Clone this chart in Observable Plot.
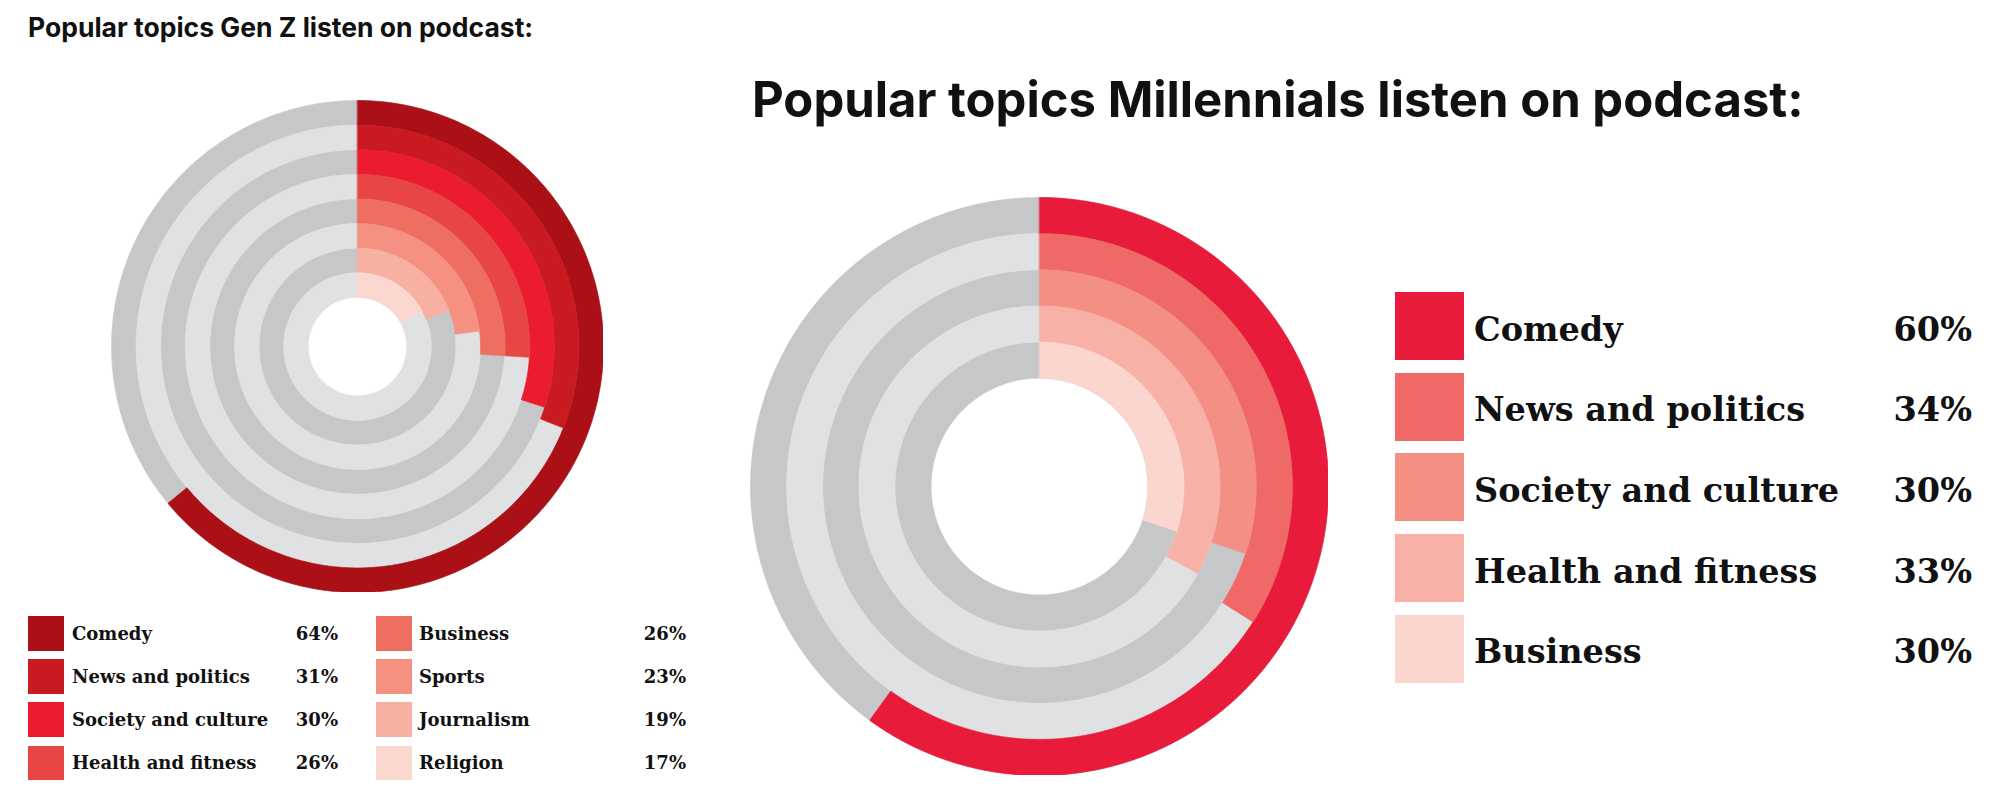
<!DOCTYPE html>
<html>
<head>
<meta charset="utf-8">
<script src="https://cdn.jsdelivr.net/npm/d3@7"></script>
<script src="https://cdn.jsdelivr.net/npm/@observablehq/plot@0.6"></script>
<style>
  html, body { margin: 0; padding: 0; background: #fff; }
  #root { position: relative; width: 1992px; height: 798px; overflow: hidden; background: #fff; }
  .title { font-family: Inter, "Open Sans", sans-serif; font-weight: 700; color: #111; white-space: nowrap; line-height: 1; }
  .leg { font-family: "DejaVu Serif", serif; font-weight: 700; color: #111; white-space: nowrap; display: flex; justify-content: space-between; align-items: center; }
  .sw { position: absolute; }
</style>
</head>
<body>
<div id="root"></div>
<script>
// ---- data ----
const genzTitle = "Popular topics Gen Z listen on podcast:";
const genzTopics = ["Comedy", "News and politics", "Society and culture", "Health and fitness", "Business", "Sports", "Journalism", "Religion"];
const genzValues = [64, 31, 30, 26, 26, 23, 19, 17];
const genzColors = ["#ab1016", "#ca1a21", "#ea1c2e", "#e84545", "#ef6e62", "#f49180", "#f8b0a2", "#fbd8cf"];

const millTitle = "Popular topics Millennials listen on podcast:";
const millTopics = ["Comedy", "News and politics", "Society and culture", "Health and fitness", "Business"];
const millValues = [60, 34, 30, 33, 30];
const millColors = ["#e81b3a", "#ef6966", "#f48f84", "#f8b1a7", "#fbd6cf"];

const trackColors = ["#c6c7c9", "#e0e1e3"];

// ---- geometry helpers (angle in percent of a full turn, radius in ring units) ----
function arcPoints(r, a0, a1, reverse) {
  const n = Math.max(2, Math.ceil(Math.abs(a1 - a0) / 0.2));
  const out = [];
  for (let j = 0; j <= n; j++) {
    const k = reverse ? n - j : j;
    const t = (a0 + (a1 - a0) * k / n) / 100 * 2 * Math.PI;
    out.push([r * Math.sin(t), r * Math.cos(t)]);
  }
  return out;
}
function sector(r0, r1, v, props) {
  const ring = arcPoints(r1, 0, v, false).concat(arcPoints(r0, 0, v, true));
  ring.push(ring[0]);
  return {type: "Feature", properties: props, geometry: {type: "Polygon", coordinates: [ring]}};
}
function annulus(r0, r1, props) {
  const outer = arcPoints(r1, 0, 100, false); outer[outer.length - 1] = outer[0];
  const rings = [outer];
  if (r0 > 0) { const inner = arcPoints(r0, 0, 100, true); inner[inner.length - 1] = inner[0]; rings.push(inner); }
  return {type: "Feature", properties: props, geometry: {type: "Polygon", coordinates: rings}};
}

function radialChart({topics, values, colors, hole, size}) {
  const n = topics.length;
  const rows = topics.map((topic, i) => ({topic, value: values[i], i, r0: hole + (n - 1 - i), r1: hole + (n - i)}));
  const tracks = rows.map(d => annulus(d.r0, d.r1, {i: d.i}));
  const arcs = rows.map(d => sector(d.r0, d.r1, d.value, {topic: d.topic}));
  const domain = annulus(0, hole + n, {});
  return Plot.plot({
    width: size, height: size, margin: 0,
    projection: {type: "reflect-y", domain, clip: false},
    color: {domain: topics, range: colors},
    marks: [
      Plot.geo(tracks.filter(f => f.properties.i % 2 === 0), {fill: trackColors[0], stroke: trackColors[0], strokeWidth: 0.6}),
      Plot.geo(tracks.filter(f => f.properties.i % 2 === 1), {fill: trackColors[1], stroke: trackColors[1], strokeWidth: 0.6}),
      Plot.geo(arcs, {fill: f => f.properties.topic, stroke: f => f.properties.topic, strokeWidth: 0.6})
    ]
  });
}

const root = document.getElementById("root");
function place(el, left, top) { el.style.position = "absolute"; el.style.left = left + "px"; el.style.top = top + "px"; root.appendChild(el); return el; }
function div(cls, text) { const d = document.createElement("div"); if (cls) d.className = cls; if (text != null) d.textContent = text; return d; }

// ---- Gen Z ----
const t1 = div("title", genzTitle); t1.style.fontSize = "26.5px"; place(t1, 28, 14);
place(radialChart({topics: genzTopics, values: genzValues, colors: genzColors, hole: 2, size: 492}), 110.5, 99.5);

const gzCols = [{sw: 28, text: 72, right: 338}, {sw: 376, text: 419, right: 686}];
genzTopics.forEach((topic, i) => {
  const col = gzCols[Math.floor(i / 4)], row = i % 4;
  const top = 616 + row * 43.2;
  const sw = div("sw"); sw.style.width = "35.5px"; sw.style.height = "34.5px"; sw.style.background = genzColors[i];
  place(sw, col.sw, top);
  const lg = div("leg"); lg.style.width = (col.right - col.text) + "px"; lg.style.height = "34.5px"; lg.style.fontSize = "18px";
  lg.appendChild(div(null, topic)); lg.appendChild(div(null, genzValues[i] + "%"));
  place(lg, col.text, top);
});

// ---- Millennials ----
const t2 = div("title", millTitle); t2.style.fontSize = "49px"; place(t2, 752, 75);
place(radialChart({topics: millTopics, values: millValues, colors: millColors, hole: 3, size: 578}), 749.5, 197);

millTopics.forEach((topic, i) => {
  const top = 292 + i * 80.7;
  const sw = div("sw"); sw.style.width = "69px"; sw.style.height = "68px"; sw.style.background = millColors[i];
  place(sw, 1395, top);
  const lg = div("leg"); lg.style.width = (1972 - 1474) + "px"; lg.style.height = "68px"; lg.style.fontSize = "33.5px";
  lg.style.paddingTop = "6px"; lg.style.boxSizing = "border-box";
  lg.appendChild(div(null, topic)); lg.appendChild(div(null, millValues[i] + "%"));
  place(lg, 1474, top);
});
</script>
</body>
</html>
